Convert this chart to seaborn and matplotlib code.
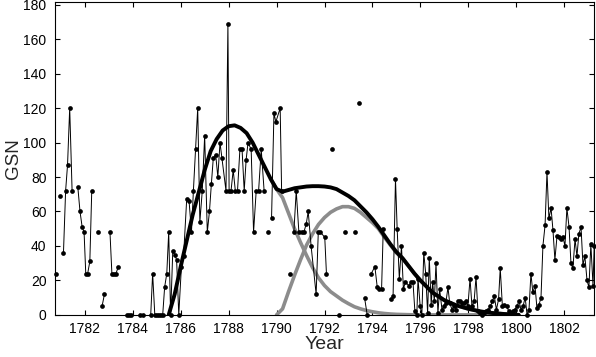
import numpy as np
import pandas as pd
import matplotlib
matplotlib.use("Agg")
import matplotlib.pyplot as plt
import seaborn as sns

# monthly group sunspot numbers (nan = gap in the record)
yr = [1780.79, np.nan, 1780.96, np.nan,
      1781.11, 1781.20, 1781.28, 1781.37, 1781.47, np.nan,
      1781.71, 1781.80, 1781.89, 1781.97, 1782.04, 1782.12, 1782.21, 1782.29, np.nan,
      1782.55, np.nan, 1782.72, 1782.82, np.nan,
      1783.05, 1783.13, 1783.22, 1783.30, 1783.40, np.nan,
      1783.75, 1783.83, 1783.92, np.nan, 1784.31, 1784.42, np.nan,
      1784.75, 1784.83, 1784.92, 1785.00, 1785.08, 1785.17, 1785.25, 1785.33, 1785.42,
      1785.50, 1785.58, 1785.67, 1785.75, 1785.83, 1785.92, 1786.03, 1786.12, 1786.25,
      1786.35, 1786.45, 1786.53, 1786.62, 1786.71, 1786.80, 1786.90, 1787.00, 1787.11,
      1787.20, 1787.28, 1787.36, 1787.46, 1787.55, 1787.64, 1787.72, 1787.89, 1787.97,
      1788.02, 1788.10, 1788.19, 1788.28, 1788.37, 1788.47, 1788.56, 1788.65, 1788.73,
      1788.81, 1788.94, 1789.04, 1789.15, 1789.25, 1789.36, 1789.48, np.nan,
      1789.64, np.nan, 1789.79, 1789.89, 1789.97, 1790.15, 1790.21, np.nan,
      1790.58, np.nan,
      1790.72, 1790.82, 1790.93, 1791.04, 1791.14, 1791.24, 1791.32, 1791.44, 1791.65,
      1791.74, 1791.83, 1792.01, 1792.08, np.nan,
      1792.32, np.nan, 1792.60, np.nan, 1792.85, np.nan, 1793.26, np.nan, 1793.43, np.nan,
      1793.67, 1793.78, np.nan,
      1793.95, 1794.10, 1794.20, 1794.29, 1794.38, 1794.45, np.nan,
      1794.79, 1794.86, 1794.96, 1795.03, 1795.12, 1795.21, 1795.29, 1795.37, 1795.52,
      1795.60, 1795.69, 1795.77, 1795.85, 1795.90, 1795.99, 1796.06, 1796.14, 1796.22,
      1796.30, 1796.37, 1796.45, 1796.51, 1796.58, 1796.65, 1796.73, 1796.80, 1796.90,
      1796.98, 1797.06, 1797.15, 1797.22, 1797.32, 1797.40, 1797.48, 1797.56, 1797.65,
      1797.74, 1797.82, 1797.90, 1797.98, 1798.07, 1798.15, 1798.24, 1798.32, 1798.40,
      1798.50, 1798.58, 1798.67, 1798.75, 1798.83, 1798.92, 1799.00, 1799.08, 1799.17,
      1799.26, 1799.33, 1799.42, 1799.50, 1799.60, 1799.69, 1799.77, 1799.85, 1799.93,
      1800.03, 1800.11, 1800.20, 1800.28, 1800.37, 1800.45, 1800.53, 1800.61, 1800.69,
      1800.78, 1800.86, 1800.95, 1801.03, 1801.11, 1801.20, 1801.28, 1801.36, 1801.45,
      1801.53, 1801.61, 1801.70, 1801.78, 1801.86, 1801.95, 1802.03, 1802.11, 1802.20,
      1802.28, 1802.36, 1802.45, 1802.53, 1802.61, 1802.70, 1802.78, 1802.86, 1802.95,
      1803.03, 1803.11, 1803.20, 1803.25]
gsn = [24, np.nan, 69, np.nan,
       36, 72, 87, 120, 72, np.nan,
       74, 60, 51, 48, 24, 24, 31, 72, np.nan,
       48, np.nan, 5, 12, np.nan,
       48, 24, 24, 24, 28, np.nan,
       0, 0, 0, np.nan, 0, 0, np.nan,
       0, 24, 0, 0, 0, 0, 0, 16, 24,
       48, 0, 37, 35, 32, 0, 28, 34, 67,
       66, 48, 72, 96, 120, 54, 72, 104, 48,
       60, 76, 91, 93, 80, 100, 91, 72, 169,
       72, 72, 84, 72, 72, 96, 96, 72, 90,
       100, 96, 48, 72, 72, 96, 72, np.nan,
       48, np.nan, 56, 117, 112, 120, 72, np.nan,
       24, np.nan,
       48, 72, 48, 48, 48, 53, 60, 40, 12,
       48, 48, 45, 24, np.nan,
       96, np.nan, 0, np.nan, 48, np.nan, 48, np.nan, 123, np.nan,
       10, 0, np.nan,
       24, 28, 16, 15, 15, 50, np.nan,
       9, 11, 79, 50, 21, 40, 15, 19, 17,
       19, 19, 2, 0, 21, 5, 0, 36, 24,
       1, 33, 6, 19, 8, 30, 1, 15, 3,
       5, 7, 16, 7, 3, 5, 3, 8, 8,
       7, 7, 8, 5, 21, 5, 8, 22, 2,
       1, 0, 1, 2, 3, 5, 8, 11, 3,
       9, 27, 5, 6, 5, 2, 1, 2, 3,
       5, 8, 3, 5, 10, 0, 3, 24, 13,
       17, 4, 6, 10, 40, 52, 83, 56, 62,
       49, 32, 46, 45, 44, 45, 40, 62, 51,
       30, 27, 44, 34, 47, 51, 29, 34, 20,
       16, 41, 17, 40]
assert len(yr) == len(gsn)

# fitted cycle shapes (overlapping cycles a and b, and their sum)
fit_yr = [1785.50, 1785.75, 1786.00, 1786.25, 1786.50, 1786.75, 1787.00, 1787.25,
          1787.50, 1787.75, 1788.00, 1788.25, 1788.50, 1788.75, 1789.00, 1789.25,
          1789.50, 1789.75, 1790.00, 1790.25, 1790.50, 1790.75, 1791.00, 1791.25,
          1791.50, 1791.75, 1792.00, 1792.25, 1792.50, 1792.75, 1793.00, 1793.25,
          1793.50, 1793.75, 1794.00, 1794.25, 1794.50, 1794.75, 1795.00, 1795.25,
          1795.50, 1795.75, 1796.00, 1796.50, 1797.00, 1797.50, 1798.00, 1798.50,
          1799.00, 1799.50, 1800.10]
total = [0, 12, 28, 43, 58, 71, 84, 95,
         102, 107, 109.5, 110, 108.5, 105.5, 100, 93,
         86, 79, 73, 71.5, 72.5, 73.5, 74, 74.5,
         74.7, 74.7, 74.5, 74, 73, 71, 69, 66.5,
         63, 59.5, 55.5, 51, 46, 41, 36.5, 33,
         28.5, 24, 20, 13, 8.5, 5.5, 3.5, 2,
         1.1, 0.5, 0]
cycle_a = [0, 12, 28, 43, 58, 71, 84, 95,
           102, 107, 109.5, 110, 108.5, 105.5, 100, 93,
           86, 79, 73, 68, 59, 50, 42, 34.5,
           27.5, 21.5, 17, 13.5, 11, 8.5, 6.5, 4.7,
           3.5, 2.5, 1.8, 1.2, 0.8, 0.5, 0.3, 0.2,
           0.1, 0, 0, 0, 0, 0, 0, 0,
           0, 0, 0]
cycle_b = [0, 0, 0, 0, 0, 0, 0, 0,
           0, 0, 0, 0, 0, 0, 0, 0,
           0, 0, 0, 3.5, 13.5, 23, 32, 40.5,
           47, 52.5, 56.5, 59.5, 61.5, 62.8, 62.8, 61.8,
           59.5, 56.5, 53.5, 50, 45, 40.5, 36, 32.8,
           28.4, 24, 20, 13, 8.5, 5.5, 3.5, 2,
           1.1, 0.5, 0]

df = pd.DataFrame({"year": yr, "gsn": gsn})
df["seg"] = df["gsn"].isna().cumsum()
df = df.dropna()
fit = pd.DataFrame({"year": fit_yr, "total": total, "a": cycle_a, "b": cycle_b})

sns.set_style("ticks")
plt.rcParams["font.family"] = ["Liberation Sans", "DejaVu Sans"]

fig, ax = plt.subplots(figsize=(5.96, 3.57), dpi=100)
fig.subplots_adjust(left=0.092, right=0.997, top=0.994, bottom=0.118)

grey = "#8c8c8c"
sns.lineplot(data=fit[fit["year"] >= 1789.75], x="year", y="a", color=grey, lw=2.6, ax=ax)
sns.lineplot(data=fit[fit["year"] >= 1790.0], x="year", y="b", color=grey, lw=2.6, ax=ax)
sns.lineplot(data=fit, x="year", y="total", color="black", lw=2.8, ax=ax)
sns.lineplot(data=df, x="year", y="gsn", units="seg", estimator=None,
             color="black", lw=0.7, marker="o", ms=3.4, mew=0, ax=ax)
# dots sitting on zero should stay visible over the bottom spine
for ln in ax.lines[3:]:
    ln.set_clip_on(False)
    ln.set_zorder(3)

ax.set_xlim(1780.75, 1803.25)
ax.set_ylim(0, 181.5)
ax.set_xticks(range(1782, 1803, 2))
ax.set_yticks(range(0, 181, 20))
ax.tick_params(direction="in", top=True, right=True, length=3.5, width=0.8,
               labelsize=10, colors="black")
ax.tick_params(axis="y", pad=6)
ax.tick_params(axis="x", pad=5)
for s in ax.spines.values():
    s.set_linewidth(0.8)
    s.set_color("black")
ax.set_xlabel("Year", fontsize=14, labelpad=0)
ax.set_ylabel("GSN", fontsize=13.5, labelpad=1)

plt.savefig("out.png", dpi=100)
